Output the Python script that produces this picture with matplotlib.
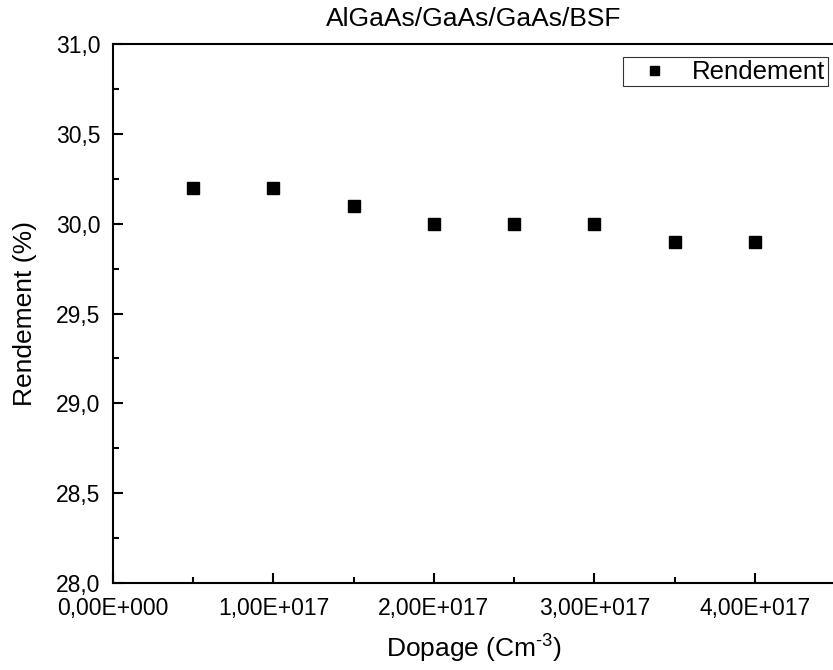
import matplotlib
matplotlib.use("Agg")
import matplotlib.pyplot as plt
from matplotlib.ticker import MultipleLocator, FuncFormatter

# Efficiency versus doping level
dopage = [0.5e17, 1.0e17, 1.5e17, 2.0e17, 2.5e17, 3.0e17, 3.5e17, 4.0e17]
rendement = [30.2, 30.2, 30.1, 30.0, 30.0, 30.0, 29.9, 29.9]

plt.rcParams['font.family'] = ['Liberation Sans', 'DejaVu Sans']
plt.rcParams['mathtext.fontset'] = 'custom'
plt.rcParams['mathtext.rm'] = 'Liberation Sans'
plt.rcParams['mathtext.it'] = 'Liberation Sans:italic'
plt.rcParams['mathtext.bf'] = 'Liberation Sans:bold'

W, H = 833, 670
fig = plt.figure(figsize=(W / 100, H / 100), dpi=100)
left, right, top, bottom = 113, 835, 44, 583
ax = fig.add_axes([left / W, 1 - bottom / H, (right - left) / W, (bottom - top) / H])

ax.plot(dopage, rendement, linestyle='none', marker='s', markersize=9,
        color='black', label='Rendement')

ax.set_xlim(0, 4.5e17)
ax.set_ylim(28.0, 31.0)

ax.xaxis.set_major_locator(MultipleLocator(1e17))
ax.xaxis.set_minor_locator(MultipleLocator(0.5e17))
ax.yaxis.set_major_locator(MultipleLocator(0.5))
ax.yaxis.set_minor_locator(MultipleLocator(0.25))


def sci_fmt(v, pos):
    if v == 0:
        return '0,00E+000'
    exp = 0
    m = v
    while abs(m) >= 10:
        m /= 10
        exp += 1
    return f"{m:.2f}".replace('.', ',') + f"E+{exp:03d}"


ax.xaxis.set_major_formatter(FuncFormatter(sci_fmt))
ax.yaxis.set_major_formatter(FuncFormatter(lambda v, p: f"{v:.1f}".replace('.', ',')))

ax.tick_params(which='both', direction='in', top=False, right=False,
               labelsize=16.5, width=1.5, colors='black')
ax.tick_params(axis='y', which='major', pad=9)
ax.tick_params(axis='x', which='major', pad=10)
ax.tick_params(which='major', length=7)
ax.tick_params(which='minor', length=4)
for s in ax.spines.values():
    s.set_linewidth(1.5)

ax.set_xlabel(r'Dopage (Cm$^{\text{-3}}$)', fontsize=19, labelpad=9)
ax.set_ylabel('Rendement (%)', fontsize=19, labelpad=14)
ax.set_title('AlGaAs/GaAs/GaAs/BSF', fontsize=19, pad=13)

leg = ax.legend(loc='upper right',
                bbox_to_anchor=((828 - left) / (right - left), 1 - (57 - top) / (bottom - top)),
                fontsize=18.5, frameon=True, fancybox=False, borderpad=0.1,
                handletextpad=0.4, markerscale=0.72, borderaxespad=0,
                handlelength=2.2)
leg.get_frame().set_edgecolor('black')
leg.get_frame().set_linewidth(0.8)

fig.savefig('out.png', dpi=100)
